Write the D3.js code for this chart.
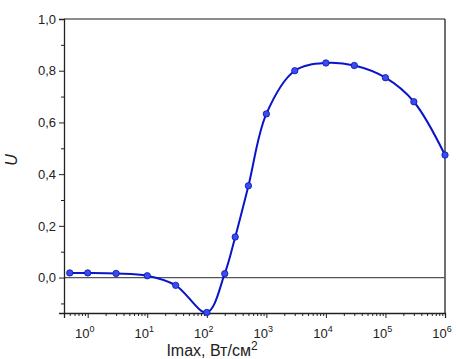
<!DOCTYPE html>
<html>
<head>
<meta charset="utf-8">
<script src="https://cdn.jsdelivr.net/npm/d3@7"></script>
<style>
  body { margin: 0; background: #fff; }
  text { font-family: Arial, "Liberation Sans", sans-serif; }
</style>
</head>
<body>
<div id="chart"></div>
<script>
// intensity, W/cm2
var imax = [0.5, 1, 3, 10, 30, 100, 200, 300, 500, 1000, 3000, 1e4, 3e4, 1e5, 3e5, 1e6]
// U values
var uVals = [0.018, 0.018, 0.016, 0.007, -0.03, -0.135, 0.015, 0.157, 0.355, 0.633, 0.80, 0.83, 0.82, 0.773, 0.68, 0.474]
var yTicks = [0, 0.2, 0.4, 0.6, 0.8, 1.0]
var xTicks = [1, 10, 100, 1000, 1e4, 1e5, 1e6]

var W = 456, H = 359
var m = {left: 64, top: 19, right: 11, bottom: 46}

var svg = d3.select('#chart').append('svg')
  .attr('width', W)
  .attr('height', H)

var x = d3.scaleLog().domain([0.4, 1e6]).range([m.left, W - m.right])
var y = d3.scaleLinear().domain([-0.137, 1.0]).range([H - m.bottom, m.top])

var fmt = function(d){ return d3.format('.1f')(d).replace('.', ',') }

// frame
svg.append('line').attr('x1', m.left).attr('x2', W - m.right)
  .attr('y1', m.top).attr('y2', m.top)
  .attr('stroke', '#666').attr('stroke-width', 1.3)
svg.append('line').attr('x1', W - m.right).attr('x2', W - m.right)
  .attr('y1', m.top).attr('y2', H - m.bottom)
  .attr('stroke', '#222').attr('stroke-width', 1.3)

// zero line
svg.append('line').attr('x1', m.left).attr('x2', W - m.right)
  .attr('y1', y(0)).attr('y2', y(0))
  .attr('stroke', '#555').attr('stroke-width', 1.3)

// y axis
var yAxis = svg.append('g')
  .attr('transform', 'translate(' + m.left + ',0)')
  .call(d3.axisLeft(y).tickValues(yTicks).tickSize(5).tickPadding(3).tickFormat(fmt))
yAxis.selectAll('text').attr('font-size', 13).attr('fill', '#222')
yAxis.select('.domain').attr('stroke', '#222').attr('stroke-width', 1.3)
yAxis.selectAll('.tick line').attr('stroke', '#222')
svg.append('g')
  .attr('transform', 'translate(' + m.left + ',0)')
  .call(d3.axisLeft(y).tickValues([-0.1, 0.1, 0.3, 0.5, 0.7, 0.9]).tickSize(3).tickFormat(''))
  .call(function(g){ g.select('.domain').remove(); g.selectAll('line').attr('stroke', '#222') })

// x axis
var minors = []
for (var e = -1; e < 6; e++) {
  for (var k = 2; k < 10; k++) {
    var v = k * Math.pow(10, e)
    if (v >= 0.4) minors.push(v)
  }
}
var xAxis = svg.append('g')
  .attr('transform', 'translate(0,' + (H - m.bottom) + ')')
  .call(d3.axisBottom(x).tickValues(xTicks).tickSize(5).tickFormat(''))
xAxis.select('.domain').attr('stroke', '#222').attr('stroke-width', 1.3)
xAxis.selectAll('.tick line').attr('stroke', '#222')
svg.append('g')
  .attr('transform', 'translate(0,' + (H - m.bottom) + ')')
  .call(d3.axisBottom(x).tickValues(minors).tickSize(3).tickFormat(''))
  .call(function(g){ g.select('.domain').remove(); g.selectAll('line').attr('stroke', '#222') })

xTicks.forEach(function(d){
  var t = svg.append('text')
    .attr('x', x(d) - 3)
    .attr('y', H - m.bottom + 25)
    .attr('text-anchor', 'middle')
    .attr('font-size', 13)
    .attr('fill', '#222')
  t.append('tspan').text('10')
  t.append('tspan').attr('dy', -6).attr('font-size', 9).text(Math.round(Math.log10(d)))
})

// axis titles
var xt = svg.append('text')
  .attr('x', 212)
  .attr('y', H - 3)
  .attr('text-anchor', 'middle')
  .attr('font-size', 16)
  .attr('fill', '#222')
xt.append('tspan').text('Imax, Вт/см')
xt.append('tspan').attr('dy', -6).attr('font-size', 12).text('2')

svg.append('text')
  .attr('transform', 'translate(17,160) rotate(-90)')
  .attr('text-anchor', 'middle')
  .attr('font-size', 16)
  .attr('font-style', 'italic')
  .attr('fill', '#222')
  .text('U')

// curve and points
var pts = imax.map(function(d, i){ return {x: d, y: uVals[i]} })
var line = d3.line()
  .x(function(d){ return x(d.x) })
  .y(function(d){ return y(d.y) })
  .curve(d3.curveCatmullRom.alpha(0.5))

svg.append('path')
  .datum(pts)
  .attr('d', line)
  .attr('fill', 'none')
  .attr('stroke', '#0a14c8')
  .attr('stroke-width', 2)

svg.selectAll('circle.pt')
  .data(pts)
  .enter()
  .append('circle')
  .attr('class', 'pt')
  .attr('cx', function(d){ return x(d.x) })
  .attr('cy', function(d){ return y(d.y) })
  .attr('r', 3.2)
  .attr('fill', '#3a4cf0')
  .attr('stroke', '#0a14b0')
  .attr('stroke-width', 0.8)
</script>
</body>
</html>
